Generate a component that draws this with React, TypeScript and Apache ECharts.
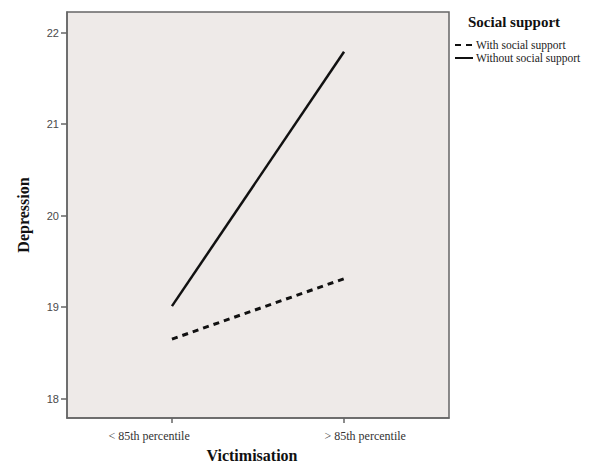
import React, { useEffect, useRef } from "react";
import * as echarts from "echarts";

const categories = ["< 85th percentile", "> 85th percentile"];
const withSupport = [18.65, 19.31];
const withoutSupport = [19.01, 21.79];
const yTicks = [18, 19, 20, 21, 22];
const seriesNames = ["With social support", "Without social support"];
// label anchor positions on the x value scale (labels sit slightly outward from ticks)
const xLabelPos = [-0.133, 1.123];

export default function App() {
  const ref = useRef<HTMLDivElement>(null);
  useEffect(() => {
    const chart = echarts.init(ref.current!, null, { renderer: "svg" });
    const serif = "'Liberation Serif', 'DejaVu Serif', serif";
    chart.setOption({
      animation: false,
      backgroundColor: "#ffffff",
      title: {
        text: "Social support",
        left: 463,
        top: 9,
        textStyle: { fontFamily: serif, fontWeight: "bold", fontSize: 15, color: "#111" },
      },
      legend: {
        orient: "vertical",
        left: 449,
        top: 34,
        itemWidth: 18,
        itemHeight: 11,
        itemGap: 1,
        data: seriesNames,
        itemStyle: { color: "transparent", borderWidth: 0, opacity: 0 },
        textStyle: { fontFamily: serif, fontSize: 11.5, lineHeight: 11, color: "#222", padding: [0, 0, 0, -2] },
      },
      grid: {
        left: 67,
        top: 12,
        width: 382,
        height: 410,
        show: true,
        backgroundColor: "#eeeae8",
        borderColor: "#666",
        borderWidth: 1.5,
      },
      xAxis: {
        type: "value",
        min: -0.61,
        max: 1.61,
        name: "Victimisation",
        nameLocation: "middle",
        nameGap: 28,
        nameTextStyle: { fontFamily: serif, fontWeight: "bold", fontSize: 16, color: "#111", padding: [0, 12, 0, 0] },
        axisLine: { show: true, onZero: false, lineStyle: { color: "#666", width: 1.5 } },
        axisTick: { show: true, customValues: [0, 1], length: 5, lineStyle: { color: "#666", width: 1.5 } },
        axisLabel: {
          customValues: xLabelPos,
          formatter: (v: number) => categories[v < 0.5 ? 0 : 1] ?? "",
          fontFamily: serif,
          fontSize: 12,
          color: "#333",
          margin: 12,
        },
        splitLine: { show: false },
      },
      yAxis: {
        type: "value",
        min: 17.787,
        max: 22.224,
        name: "Depression",
        nameLocation: "middle",
        nameGap: 36,
        nameTextStyle: { fontFamily: serif, fontWeight: "bold", fontSize: 16, color: "#111" },
        axisLine: { show: true, onZero: false, lineStyle: { color: "#666", width: 1.5 } },
        axisTick: { show: true, customValues: yTicks, length: 6, lineStyle: { color: "#666", width: 1.5 } },
        axisLabel: {
          customValues: yTicks,
          fontFamily: "'Liberation Sans', sans-serif",
          fontSize: 11,
          color: "#4a4a4a",
          margin: 8,
        },
        splitLine: { show: false },
      },
      series: [
        {
          name: seriesNames[0],
          type: "line",
          symbol: "none",
          color: "#111",
          data: withSupport.map((v, i) => [i, v]),
          lineStyle: { color: "#111", width: 3, type: [6, 5] },
        },
        {
          name: seriesNames[1],
          type: "line",
          symbol: "none",
          color: "#111",
          data: withoutSupport.map((v, i) => [i, v]),
          lineStyle: { color: "#111", width: 2.5 },
        },
      ],
    });
    return () => chart.dispose();
  }, []);
  return (
    <div
      ref={ref}
      style={{ position: "fixed", left: 0, top: 0, width: 589, height: 468 }}
    />
  );
}
